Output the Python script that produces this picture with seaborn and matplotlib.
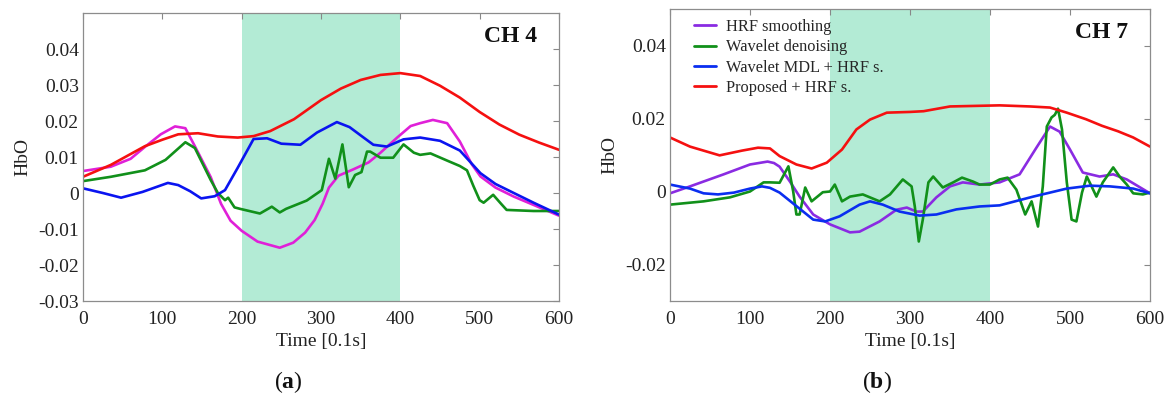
import numpy as np
import pandas as pd
import matplotlib
matplotlib.use("Agg")
import matplotlib.pyplot as plt
import seaborn as sns

# ---------------- data: panel (a) CH 4 ----------------
a_red_t = [0, 35, 78, 100, 120, 145, 170, 195, 215, 236, 266, 300, 325, 350, 375, 400, 425, 450, 475, 500, 525, 550, 575, 600]
a_red_v = [0.0045, 0.0078, 0.013, 0.0148, 0.0163, 0.0166, 0.0157, 0.0154, 0.0158, 0.0172, 0.0205, 0.0258, 0.029, 0.0314,
           0.0328, 0.0333, 0.0325, 0.0298, 0.0265, 0.0225, 0.019, 0.0162, 0.014, 0.012]

a_mag_t = [0, 35, 60, 78, 98, 116, 129, 141, 161, 174, 186, 200, 220, 248, 265, 280, 292, 302, 310, 322, 340, 360, 375,
           396, 413, 425, 441, 459, 475, 490, 501, 520, 543, 570, 600]
a_mag_v = [0.0061, 0.0073, 0.0095, 0.0128, 0.0163, 0.0185, 0.018, 0.013, 0.0044, -0.003, -0.0077, -0.0105, -0.0135,
           -0.0152, -0.0138, -0.011, -0.0075, -0.003, 0.0015, 0.0048, 0.0065, 0.0085, 0.0112, 0.0154, 0.0186, 0.0194,
           0.0203, 0.0194, 0.0143, 0.008, 0.0046, 0.0015, -0.001, -0.0035, -0.0063]

a_grn_t = [0, 35, 78, 104, 129, 141, 161, 170, 179, 183, 191, 198, 223, 238, 248, 256, 282, 301, 310, 318, 327, 335,
           343, 351, 358, 362, 375, 391, 404, 417, 425, 438, 459, 475, 484, 492, 500, 505, 517, 527, 534, 568, 600]
a_grn_v = [0.0033, 0.0045, 0.0063, 0.0092, 0.0141, 0.0125, 0.0036, 0.0, -0.002, -0.0013, -0.004, -0.0044, -0.0057,
           -0.0038, -0.0054, -0.0044, -0.0021, 0.0008, 0.0095, 0.004, 0.0135, 0.0016, 0.005, 0.0058, 0.0115, 0.0115,
           0.0098, 0.0098, 0.0135, 0.0112, 0.0106, 0.011, 0.009, 0.0075, 0.0063, 0.002, -0.002, -0.0027, -0.0005,
           -0.003, -0.0047, -0.005, -0.005]

a_blu_t = [0, 25, 48, 75, 107, 120, 135, 149, 166, 179, 195, 205, 215, 232, 250, 274, 295, 320, 336, 350, 366, 383, 404,
           425, 450, 475, 501, 520, 543, 568, 600]
a_blu_v = [0.0013, 0.0, -0.0013, 0.0003, 0.0028, 0.0022, 0.0005, -0.0015, -0.0009, 0.0008, 0.007, 0.011, 0.015, 0.0152,
           0.0137, 0.0134, 0.0168, 0.0197, 0.0183, 0.016, 0.0134, 0.0129, 0.0149, 0.0154, 0.0145, 0.0118, 0.0055,
           0.0025, 0.0, -0.0027, -0.006]

# ---------------- data: panel (b) CH 7 ----------------
b_red_t = [0, 25, 62, 90, 110, 125, 137, 158, 177, 196, 215, 233, 250, 271, 300, 317, 350, 412, 450, 475, 496, 520, 540,
           560, 579, 600]
b_red_v = [0.0148, 0.0123, 0.0099, 0.0112, 0.012, 0.0118, 0.0097, 0.0074, 0.0063, 0.0079, 0.0115, 0.017, 0.0197,
           0.0216, 0.0218, 0.022, 0.0233, 0.0236, 0.0233, 0.023, 0.0216, 0.0198, 0.018, 0.0165, 0.0148, 0.0123]

b_pur_t = [0, 25, 67, 100, 122, 130, 137, 150, 162, 179, 200, 225, 237, 262, 283, 296, 308, 316, 333, 350, 366, 387,
           412, 437, 458, 475, 487, 500, 516, 537, 554, 571, 600]
b_pur_v = [-0.0005, 0.0014, 0.0047, 0.0074, 0.0082, 0.0078, 0.0068, 0.0027, -0.0014, -0.0063, -0.009, -0.0112, -0.011,
           -0.0082, -0.005, -0.0044, -0.0055, -0.0055, -0.0016, 0.0014, 0.0025, 0.0019, 0.0025, 0.0047, 0.012, 0.0178,
           0.0164, 0.0115, 0.0052, 0.0041, 0.0047, 0.0033, -0.0005]

b_grn_t = [0, 42, 75, 100, 117, 125, 137, 148, 154, 158, 162, 169, 177, 191, 200, 206, 215, 225, 241, 262, 275, 291,
           302, 306, 311, 316, 323, 329, 341, 354, 365, 379, 387, 400, 412, 422, 433, 444, 452, 460, 466, 471, 477,
           481, 485, 490, 496, 502, 508, 515, 521, 527, 533, 541, 554, 562, 571, 579, 591, 600]
b_grn_v = [-0.0036, -0.0027, -0.0016, 0.0, 0.0025, 0.0025, 0.0024, 0.0069, 0.0, -0.0063, -0.0063, 0.0011, -0.0027,
           -0.0002, 0.0, 0.0019, -0.0027, -0.0014, -0.0008, -0.0027, -0.0008, 0.0033, 0.0014, -0.0041, -0.0137,
           -0.0077, 0.0025, 0.0041, 0.0011, 0.0025, 0.0038, 0.0027, 0.0019, 0.0019, 0.0033, 0.0038, 0.0005, -0.0063,
           -0.0027, -0.0096, 0.0014, 0.0178, 0.0203, 0.021, 0.0227, 0.017, 0.0025, -0.0077, -0.0082, -0.0003, 0.0041,
           0.0014, -0.0014, 0.0025, 0.0066, 0.0041, 0.0019, -0.0005, -0.0008, -0.0003]

b_blu_t = [0, 25, 42, 60, 80, 100, 115, 125, 137, 158, 179, 194, 212, 237, 250, 266, 287, 312, 333, 358, 387, 412, 454,
           496, 525, 550, 579, 600]
b_blu_v = [0.0019, 0.0008, -0.0005, -0.0008, -0.0003, 0.0008, 0.0014, 0.001, -0.0003, -0.004, -0.0077, -0.0082,
           -0.0068, -0.0036, -0.0027, -0.0036, -0.0055, -0.0066, -0.0063, -0.0049, -0.0041, -0.0038, -0.0014, 0.0008,
           0.0016, 0.0014, 0.0008, -0.0005]

series_names = ["HRF smoothing", "Wavelet denoising", "Wavelet MDL + HRF s.", "Proposed + HRF s."]
stim_start, stim_end = 200, 400
y_ticks_a = [-0.03, -0.02, -0.01, 0, 0.01, 0.02, 0.03, 0.04]
y_ticks_b = [-0.02, 0, 0.02, 0.04]
x_ticks = [0, 100, 200, 300, 400, 500, 600]


def frame(parts):
    rows = []
    for name, t, v in parts:
        rows.append(pd.DataFrame({"t": t, "v": v, "s": name}))
    return pd.concat(rows, ignore_index=True)


df_a = frame([(series_names[3], a_red_t, a_red_v), (series_names[0], a_mag_t, a_mag_v),
              (series_names[1], a_grn_t, a_grn_v), (series_names[2], a_blu_t, a_blu_v)])
df_b = frame([(series_names[3], b_red_t, b_red_v), (series_names[0], b_pur_t, b_pur_v),
              (series_names[1], b_grn_t, b_grn_v), (series_names[2], b_blu_t, b_blu_v)])

sns.set_theme(style="white")
plt.rcParams["font.family"] = ["Liberation Serif", "DejaVu Serif"]
plt.rcParams["mathtext.fontset"] = "custom"
plt.rcParams["mathtext.rm"] = "Liberation Serif"
plt.rcParams["mathtext.bf"] = "Liberation Serif:bold"

fig = plt.figure(figsize=(11.69, 3.96), dpi=100)
ax_a = fig.add_axes([83 / 1169, 95 / 396, 476 / 1169, 288 / 396])
ax_b = fig.add_axes([670 / 1169, 95 / 396, 480 / 1169, 292 / 396])

pal_a = {series_names[0]: "#e020d8", series_names[1]: "#11901a", series_names[2]: "#0a14f0",
         series_names[3]: "#f51010"}
pal_b = {series_names[0]: "#8a2be2", series_names[1]: "#11901a", series_names[2]: "#0a2ef0",
         series_names[3]: "#f51010"}

for ax, df, pal, yt, title in [(ax_a, df_a, pal_a, y_ticks_a, "CH 4"), (ax_b, df_b, pal_b, y_ticks_b, "CH 7")]:
    ax.axvspan(stim_start, stim_end, color="#b3ebd5", lw=0, zorder=0)
    sns.lineplot(data=df, x="t", y="v", hue="s", palette=pal, hue_order=series_names, estimator=None,
                 sort=True, lw=1.9, ax=ax, legend=(ax is ax_b))
    ax.set_xlim(0, 600)
    ax.set_ylim(-0.03, 0.05)
    ax.set_xticks(x_ticks)
    ax.set_xticklabels([str(x) for x in x_ticks])
    ax.set_yticks(yt)
    ax.set_yticklabels(["0" if y == 0 else ("%g" % y) for y in yt])
    ax.tick_params(direction="in", length=4, width=0.8, color="#888888", top=True, right=True,
                   labelsize=14, labelcolor="#222222", pad=3)
    ax.tick_params(axis="x", pad=7)
    for sp in ax.spines.values():
        sp.set_color("#8c8c8c")
        sp.set_linewidth(0.9)
    ax.set_xlabel("Time [0.1s]", fontsize=14, color="#222222", labelpad=4)
    ax.set_ylabel("HbO", fontsize=14, color="#222222", labelpad=5)
    ax.text(0.955, 0.92, title, transform=ax.transAxes, ha="right", va="center", fontsize=17,
            fontweight="bold", color="#111111")

leg = ax_b.legend(loc="upper left", bbox_to_anchor=(0.03, 1.0), frameon=False, fontsize=11.8,
                  handlelength=1.35, handletextpad=0.6, labelspacing=0.27, borderaxespad=0.2)
for line in leg.get_lines():
    line.set_linewidth(2)

fig.text(288 / 1169, 1 - 382 / 396, r"($\mathbf{a}$)", ha="center", va="center", fontsize=17, color="#111111")
fig.text(877 / 1169, 1 - 382 / 396, r"($\mathbf{b}$)", ha="center", va="center", fontsize=17, color="#111111")

fig.savefig("out.png", dpi=100, facecolor="white")
